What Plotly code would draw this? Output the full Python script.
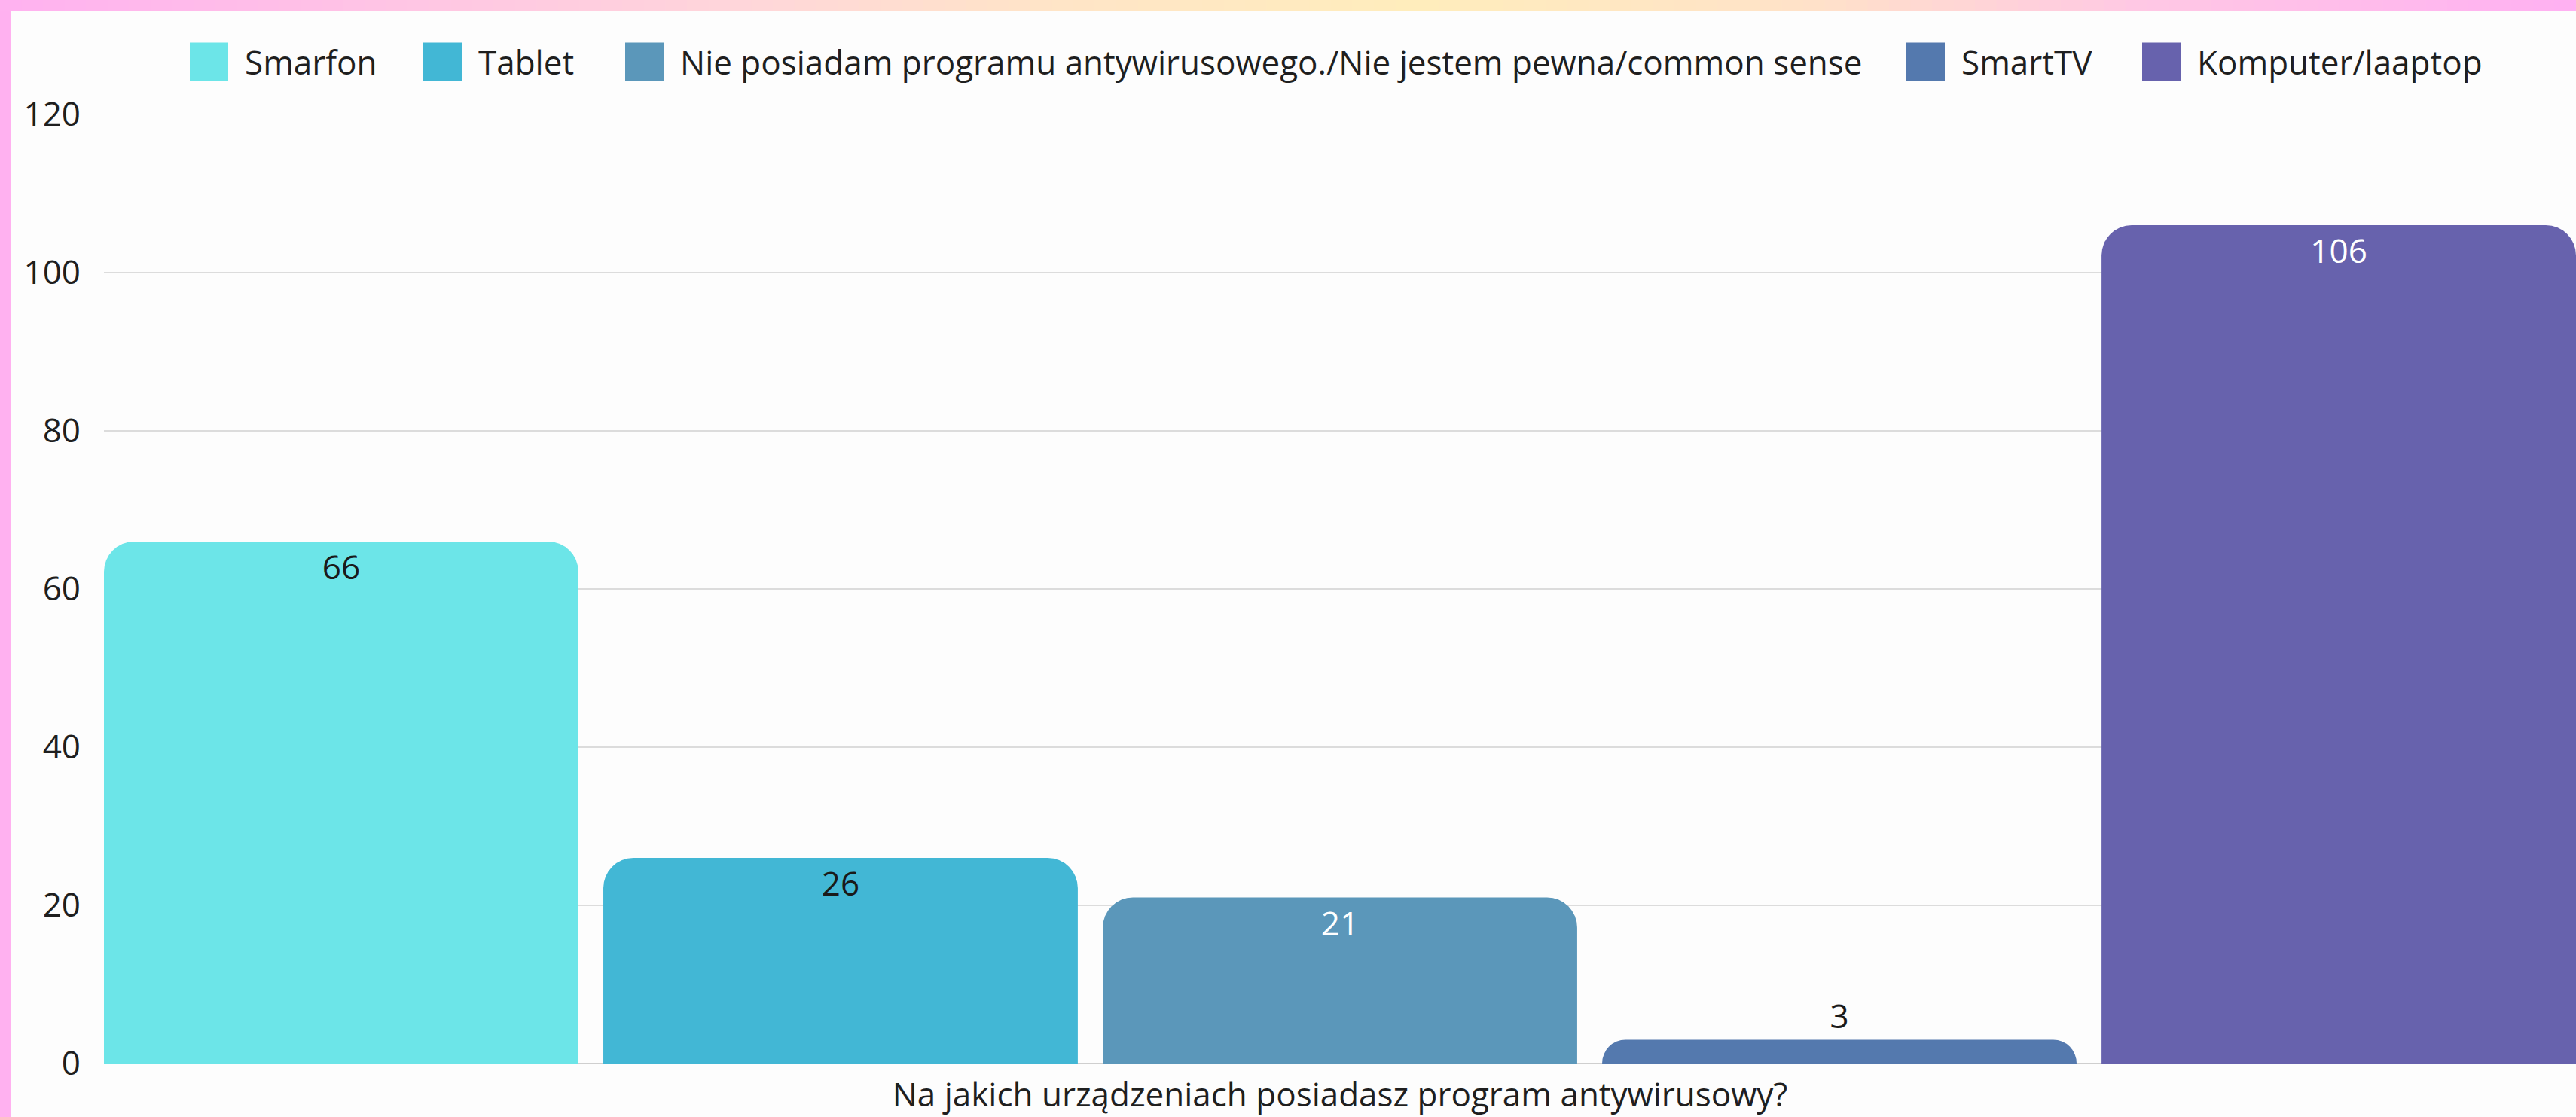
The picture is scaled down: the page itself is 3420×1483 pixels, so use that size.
import plotly.graph_objects as go

# ---------------- data ----------------
question = ["Na jakich urządzeniach posiadasz program antywirusowy?"]
series_names = [
    "Smarfon",
    "Tablet",
    "Nie posiadam programu antywirusowego./Nie jestem pewna/common sense",
    "SmartTV",
    "Komputer/laaptop",
]
series_values = [66, 26, 21, 3, 106]
y_ticks = [0, 20, 40, 60, 80, 100, 120]

# ---------------- style ----------------
bar_colors = ["#6CE5E8", "#42B7D5", "#5B97BA", "#5479AE", "#6762AD"]
label_colors = ["#1a1a1a", "#1a1a1a", "#ffffff", "#1a1a1a", "#ffffff"]
FONT = "Open Sans"
FS = 44
TXT = "#1f1f1f"

W, H = 3420, 1483
ML, MR, MT, MB = 138, 0, 152, 71
PW, PH = W - ML - MR, H - MT - MB
XRANGE = [-0.495, 0.495]


def px_x(px):
    return (px - ML) / PW


def px_y(py):
    return (H - MB - py) / PH


fig = go.Figure()
# visible rounded bars
for name, val, col in zip(series_names, series_values, bar_colors):
    fig.add_trace(
        go.Bar(
            x=question,
            y=[val],
            name=name,
            marker=dict(color=col, line=dict(width=0), cornerradius=40),
            showlegend=False,
            hoverinfo="skip",
        )
    )
# transparent twin bars (square corners) carrying the value labels
for name, val, lc in zip(series_names, series_values, label_colors):
    fig.add_trace(
        go.Bar(
            x=question,
            y=[val],
            name=name,
            xaxis="x2",
            marker=dict(color="rgba(0,0,0,0)", line=dict(width=0), cornerradius=0),
            text=[val],
            textposition="inside" if val >= 10 else "outside",
            textangle=0,
            insidetextanchor="end",
            constraintext="none",
            textfont=dict(family=FONT, size=FS, color=lc),
            cliponaxis=False,
            showlegend=False,
        )
    )

shapes = []
annotations = []

# custom legend (large square swatches) built from series names / colors
legend_sq_x = [252, 562, 830, 2531, 2844]
SQ = 51
LEG_Y = 82
for name, col, x0 in zip(series_names, bar_colors, legend_sq_x):
    shapes.append(
        dict(
            type="rect", xref="paper", yref="paper",
            x0=px_x(x0), x1=px_x(x0 + SQ),
            y0=px_y(LEG_Y + SQ / 2), y1=px_y(LEG_Y - SQ / 2),
            fillcolor=col, line=dict(width=0), layer="above",
        )
    )
    annotations.append(
        dict(
            text=name, xref="paper", yref="paper",
            x=px_x(x0 + SQ + 20), y=px_y(LEG_Y),
            xanchor="left", yanchor="middle", showarrow=False,
            font=dict(family=FONT, size=FS, color=TXT),
        )
    )

# decorative frame: pink left edge + gradient top edge
shapes.append(
    dict(
        type="rect", xref="paper", yref="paper",
        x0=px_x(0), x1=px_x(14), y0=px_y(H), y1=px_y(0),
        fillcolor="#FFB1F0", line=dict(width=0), layer="above",
    )
)
stops = [
    (0.00, (255, 177, 240)),
    (0.29, (255, 214, 218)),
    (0.40, (255, 228, 200)),
    (0.55, (255, 237, 188)),
    (0.70, (255, 226, 200)),
    (0.83, (255, 200, 228)),
    (1.00, (255, 176, 242)),
]


def grad(t):
    for (t0, c0), (t1, c1) in zip(stops[:-1], stops[1:]):
        if t0 <= t <= t1:
            f = (t - t0) / (t1 - t0) if t1 > t0 else 0
            return "rgb(%d,%d,%d)" % tuple(round(a + (b - a) * f) for a, b in zip(c0, c1))
    return "rgb(%d,%d,%d)" % stops[-1][1]


N = 120
for i in range(N):
    a, b = i / N * W, (i + 1) / N * W
    shapes.append(
        dict(
            type="rect", xref="paper", yref="paper",
            x0=px_x(a), x1=px_x(b + 1), y0=px_y(14), y1=px_y(0),
            fillcolor=grad((i + 0.5) / N), line=dict(width=0), layer="above",
        )
    )

fig.update_layout(
    width=W, height=H,
    margin=dict(l=ML, r=MR, t=MT, b=MB, pad=0),
    paper_bgcolor="#FDFDFD",
    plot_bgcolor="#FDFDFD",
    font=dict(family=FONT, size=FS, color=TXT),
    barmode="group",
    bargap=0,
    bargroupgap=0.05,
    showlegend=False,
    shapes=shapes,
    annotations=annotations,
    xaxis=dict(
        type="category",
        range=XRANGE,
        showgrid=False,
        showline=False,
        zeroline=False,
        ticks="",
        ticklabelstandoff=12,
        tickfont=dict(family=FONT, size=FS, color=TXT),
        fixedrange=True,
    ),
    xaxis2=dict(
        type="category",
        overlaying="x",
        range=XRANGE,
        visible=False,
        fixedrange=True,
    ),
    yaxis=dict(
        range=[0, 120],
        tickvals=y_ticks,
        showgrid=True,
        gridcolor="#DCDCDC",
        gridwidth=2,
        zeroline=True,
        zerolinecolor="#CFCFCF",
        zerolinewidth=2,
        showline=False,
        ticks="",
        ticklabelstandoff=30,
        tickfont=dict(family=FONT, size=FS, color=TXT),
        fixedrange=True,
    ),
)

fig.write_html(
    "out.html",
    config={"displayModeBar": False},
    post_script="document.body.style.margin='0';document.body.style.overflow='hidden';",
)
